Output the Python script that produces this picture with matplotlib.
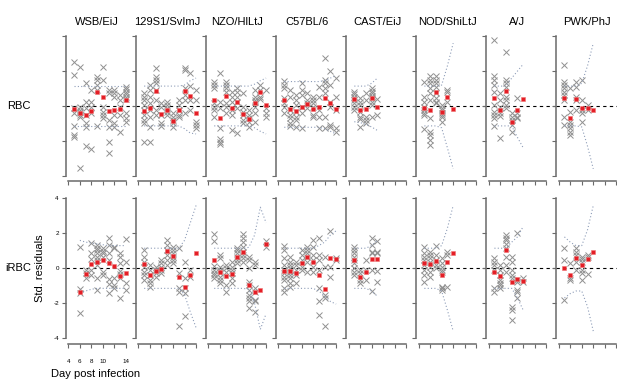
import matplotlib
matplotlib.use("Agg")
import matplotlib.pyplot as plt

plt.rcParams['font.family'] = ['Liberation Sans', 'DejaVu Sans']

STRAINS = ["WSB/EiJ", "129S1/SvImJ", "NZO/HlLtJ", "C57BL/6", "CAST/EiJ",
           "NOD/ShiLtJ", "A/J", "PWK/PhJ"]

D10 = [5, 6, 7, 8, 9, 10, 11, 12, 13, 14]
D9 = [6, 7, 8, 9, 10, 11, 12, 13, 14]
D6 = [5, 6, 7, 8, 9, 10]
D5 = [5, 6, 7, 8, 9]

# ---- RBC (top row) ----
RBC_DAYS = {"WSB/EiJ": D10, "129S1/SvImJ": D10, "NZO/HlLtJ": D10, "C57BL/6": D10,
            "CAST/EiJ": D5, "NOD/ShiLtJ": D6, "A/J": D6, "PWK/PhJ": D6}

RBC_MEAN = {
    "WSB/EiJ": [-0.17, -0.42, -0.53, -0.29, 0.82, 0.50, -0.27, -0.25, -0.19, 0.34],
    "129S1/SvImJ": [-0.30, -0.10, 0.84, -0.48, -0.23, -0.84, -0.23, 0.84, 0.57, -0.38],
    "NZO/HlLtJ": [0.34, -0.70, 0.59, -0.13, 0.25, -0.46, -0.76, 0.15, 0.80, 0.06],
    "C57BL/6": [0.34, -0.15, -0.29, -0.08, 0.11, -0.19, -0.08, 0.46, 0.15, -0.19],
    "CAST/EiJ": [0.38, -0.25, -0.15, 0.46, -0.04],
    "NOD/ShiLtJ": [-0.13, -0.25, 0.80, -0.36, 0.53, -0.17],
    "A/J": [0.48, -0.23, 0.88, -0.93, -0.23, 0.42],
    "PWK/PhJ": [0.48, -0.70, 0.40, -0.13, -0.13, -0.23],
}

RBC_UP = {
    "WSB/EiJ": [1.14] * 10,
    "129S1/SvImJ": [1.14, 1.14, 1.14, 1.14, 1.14, 1.14, 1.14, 1.2, 1.45, 1.6],
    "NZO/HlLtJ": [1.14, 1.14, 1.14, 1.14, 1.14, 1.14, 1.14, 1.25, 1.45, 1.6],
    "C57BL/6": [1.4, 1.4, 1.4, 1.4, 1.4, 1.4, 1.4, 1.45, 1.6, 1.75],
    "CAST/EiJ": [1.14, 1.14, 1.14, 1.3, 1.6],
    "NOD/ShiLtJ": [1.14, 1.14, 1.14, 1.2, 2.3, 3.6],
    "A/J": [1.14, 1.14, 1.14, 1.6, 2.0, 2.4],
    "PWK/PhJ": [1.14, 1.14, 1.14, 1.3, 2.3, 3.6],
}

RBC_LO = {
    "WSB/EiJ": [-1.14] * 10,
    "129S1/SvImJ": [-1.14, -1.14, -1.14, -1.14, -1.14, -1.14, -1.14, -1.3, -1.55, -1.6],
    "NZO/HlLtJ": [-1.14, -1.14, -1.14, -1.14, -1.14, -1.14, -1.14, -1.25, -1.45, -1.6],
    "C57BL/6": [-1.22, -1.22, -1.22, -1.22, -1.22, -1.22, -1.22, -1.3, -1.45, -1.6],
    "CAST/EiJ": [-0.9, -0.95, -1.05, -1.2, -1.4],
    "NOD/ShiLtJ": [-1.14, -1.14, -1.14, -1.25, -2.4, -3.6],
    "A/J": [-1.14, -1.14, -1.14, -1.14, -1.8, -2.4],
    "PWK/PhJ": [-1.14, -1.14, -1.14, -1.2, -2.3, -3.6],
}

RBC_PTS = {
    "WSB/EiJ": [
        [2.53, 1.77, -0.13, -0.42, -1.14, -1.66, -1.75],
        [2.25, -0.04, -0.23, -0.32, -0.51, -0.65, -3.56],
        [1.33, 0.25, -0.13, -0.51, -0.99, -1.18, -2.32],
        [0.91, 0.25, -0.04, -0.42, -2.46],
        [1.68, 1.49, 1.20, 0.91, -1.14],
        [2.25, 1.49, -0.04, -0.32, -0.51, -0.70],
        [0.91, 0.72, -0.80, -1.18, -2.04, -2.67],
        [0.91, 0.72, 0.53, -0.51, -0.99, -1.18],
        [0.63, 0.34, -0.04, -0.51, -1.47],
        [1.10, 0.95, 0.82, 0.69, 0.53, 0.38, -0.42, -0.70, -0.90],
    ],
    "129S1/SvImJ": [
        [0.72, 0.53, 0.34, 0.06, -0.23, -0.51, -0.80, -0.95, -2.04],
        [1.20, 0.91, 0.53, 0.15, -0.23, -0.61, -1.18, -2.04],
        [2.15, 1.68, 1.49, 1.30, 0.91, 0.34, -0.23, -0.51],
        [0.15, -0.04, -0.51, -0.99, -1.14],
        [0.25, 0.06, -0.13, -0.32, -0.51],
        [-0.42, -0.61, -0.80, -0.99, -1.18],
        [0.34, 0.06, -0.23, -0.51, -0.61],
        [2.15, 2.06, 1.01, 0.63, 0.34, -0.42],
        [1.87, 1.14, 0.34, -0.23],
        [0.91, 0.34, -0.90, -1.09, -1.28],
    ],
    "NZO/HlLtJ": [
        [1.39, 1.20, 1.01, 0.15, -0.04, -0.23, -0.61],
        [1.87, 0.25, -0.13, -1.28, -1.90, -2.04, -2.17],
        [1.39, 1.20, 1.01, 0.82, 0.15, -0.04, -0.42],
        [0.82, 0.53, 0.25, -0.23, -0.51, -1.37],
        [1.01, 0.82, 0.53, 0.25, -0.13, -1.52],
        [0.72, -0.04, -0.32, -0.51, -0.80, -0.99],
        [-0.23, -0.51, -0.70, -0.90, -1.18],
        [0.91, 0.53, 0.34, 0.25, -0.04, -0.42, -0.90],
        [1.20, 0.91, 0.53, 0.38],
        [0.91, -0.13, -0.42, -0.61],
    ],
    "C57BL/6": [
        [1.43, 1.20, 1.01, 0.44, 0.15, -0.04, -0.42],
        [0.91, 0.53, -0.23, -0.51, -0.70, -0.99, -1.14],
        [0.63, 0.34, 0.06, -0.32, -0.61, -0.80, -1.18],
        [1.30, 0.91, 0.63, -0.04, -0.42, -1.28],
        [0.72, 0.34, 0.15, -0.13],
        [0.53, 0.34, 0.15, -0.04, -0.51, -0.65],
        [1.10, 0.53, -0.23, -0.61, -1.24],
        [2.76, 1.49, 1.30, 1.01, 0.72, -0.61, -1.24],
        [2.00, 1.20, 0.25, -0.04, -1.09, -1.18],
        [1.58, 0.53, -0.23, -1.28, -1.47],
    ],
    "CAST/EiJ": [
        [0.82, 0.67, 0.53, 0.34, 0.15, -0.04, -0.23],
        [0.44, 0.25, 0.06, -0.32, -0.61, -0.76, -1.18],
        [0.72, 0.34, -0.61, -0.80, -0.95],
        [1.01, 0.88, 0.72, 0.57, 0.44, 0.25, 0.06, -0.65],
        [0.40, -0.51],
    ],
    "NOD/ShiLtJ": [
        [1.39, 0.53, 0.25, -0.04, -0.23, -0.42, -0.51, -1.33],
        [1.71, 1.49, 1.30, 1.01, 0.72, 0.34, -0.70, -1.47, -1.66, -1.94, -2.23],
        [1.71, 1.49, 1.30, 1.07, 0.72, 0.44, 0.25, 0.15],
        [0.06, -0.13, -0.23, -0.42, -0.51, -0.61, -0.90],
        [0.91, 0.82, 0.25],
        [],
    ],
    "A/J": [
        [3.81, 1.71, 1.49, 1.20, 0.82, 0.06, -0.32, -0.51, -0.70, -1.14],
        [0.72, 0.34, -0.04, -0.42, -0.57, -1.85],
        [3.10, 1.49, 1.30, 1.10, 0.53, 0.34, 0.06, -0.13],
        [-0.42, -0.61, -0.80, -1.09, -1.47],
        [0.44, -0.42, -0.61, -0.70],
        [],
    ],
    "PWK/PhJ": [
        [2.34, 1.39, 1.20, 1.01, 0.82, 0.63, 0.34, -0.61, -1.09],
        [1.01, -0.32, -0.90, -1.09, -1.28, -1.47, -1.66],
        [1.39, 1.10, 0.53, 0.34, -0.23],
        [1.49, 0.34, -0.23, -0.42, -0.90],
        [0.06, -0.23],
        [],
    ],
}

# ---- iRBC (bottom row) ----
IRBC_DAYS = {"WSB/EiJ": D9, "129S1/SvImJ": D10, "NZO/HlLtJ": D10, "C57BL/6": D10,
             "CAST/EiJ": D5, "NOD/ShiLtJ": D6, "A/J": D6, "PWK/PhJ": D6}

IRBC_MEAN = {
    "WSB/EiJ": [-1.33, -0.34, 0.25, 0.34, 0.50, 0.32, 0.13, -0.46, -0.29],
    "129S1/SvImJ": [0.25, -0.38, -0.15, -0.06, 0.99, 0.70, -0.51, -1.09, -0.38, 0.86],
    "NZO/HlLtJ": [0.48, -0.19, -0.42, -0.34, 0.67, 0.95, -0.95, -1.33, -1.24, 1.37],
    "C57BL/6": [-0.15, -0.15, -0.29, 0.29, 0.67, 0.34, -0.38, -1.18, 0.61, 0.51],
    "CAST/EiJ": [0.48, -0.51, -0.19, 0.53, 0.51],
    "NOD/ShiLtJ": [0.29, 0.25, 0.42, -0.38, 0.34, 0.90],
    "A/J": [-0.19, -0.42, 1.05, -0.80, -0.61, -0.70],
    "PWK/PhJ": [0.00, -0.38, 0.57, 0.19, 0.53, 0.95],
}

IRBC_UP = {
    "WSB/EiJ": [1.6, 1.5, 1.45, 1.4, 1.35, 1.3, 1.3, 1.3, 1.3],
    "129S1/SvImJ": [1.15, 1.15, 1.15, 1.15, 1.15, 1.15, 1.15, 1.6, 2.6, 3.6],
    "NZO/HlLtJ": [1.15, 1.15, 1.15, 1.15, 1.15, 1.15, 1.2, 1.9, 3.5, 2.6],
    "C57BL/6": [1.15, 1.15, 1.15, 1.15, 1.15, 1.15, 1.3, 1.5, 1.9, 2.15],
    "CAST/EiJ": [1.15, 1.15, 1.15, 1.3, 1.6],
    "NOD/ShiLtJ": [1.15, 1.15, 1.15, 1.3, 2.3, 3.6],
    "A/J": [1.15, 1.15, 1.15, 1.5, 1.8, 2.4],
    "PWK/PhJ": [1.8, 1.5, 1.3, 1.3, 2.2, 3.6],
}

IRBC_LO = {
    "WSB/EiJ": [-1.4, -1.3, -1.2, -1.15, -1.15, -1.15, -1.15, -1.15, -1.15],
    "129S1/SvImJ": [-1.15, -1.15, -1.15, -1.15, -1.15, -1.15, -1.15, -1.5, -2.5, -3.4],
    "NZO/HlLtJ": [-1.15, -1.15, -1.15, -1.15, -1.15, -1.15, -1.2, -2.0, -3.5, -2.6],
    "C57BL/6": [-1.15, -1.15, -1.15, -1.15, -1.15, -1.15, -1.3, -1.6, -1.9, -2.05],
    "CAST/EiJ": [-1.15, -1.15, -1.15, -1.3, -1.6],
    "NOD/ShiLtJ": [-1.15, -1.15, -1.15, -1.3, -2.4, -3.6],
    "A/J": [-1.15, -1.15, -1.15, -1.15, -1.7, -2.4],
    "PWK/PhJ": [-1.7, -1.45, -1.3, -1.3, -2.2, -3.6],
}

IRBC_PTS = {
    "WSB/EiJ": [
        [1.24, -1.18, -1.43, -2.57],
        [-0.10, -0.29, -0.57],
        [1.43, 0.86, 0.53, -0.10, -0.38],
        [1.33, 1.18, 1.05, 0.86, 0.67, 0.48, 0.19, -0.57, -1.24],
        [1.14, 0.99, 0.86, 0.67, -0.19, -0.38],
        [1.75, 1.33, 0.86, 0.48, -0.61, -0.91, -1.43],
        [1.24, 1.14, -0.57, -0.95, -1.14],
        [0.86, 0.67, 0.29, -0.15, -0.34, -0.57, -1.68],
        [1.68, 0.38, -0.86, -1.24],
    ],
    "129S1/SvImJ": [
        [1.05, 0.67, 0.38, 0.10, -0.19, -0.38, -0.67],
        [0.19, -0.10, -0.38, -0.67, -0.86, -1.05],
        [0.10, -0.10, -0.29, -0.48],
        [0.48, 0.29, 0.10, -0.10, -0.29],
        [1.62, 1.33, 1.05, 0.76, 0.48, 0.19],
        [1.24, 1.05, 0.86, 0.67, 0.48, 0.29],
        [1.14, -0.29, -1.14, -1.33, -3.33],
        [0.38, -0.57, -1.14, -1.43, -2.76],
        [-0.10, -0.48],
        [],
    ],
    "NZO/HlLtJ": [
        [1.99, 1.56, 0.15, -0.10, -0.29, -0.38, -0.53],
        [0.76, 0.57, 0.10, -0.10, -0.29, -0.48, -0.67, -0.86],
        [0.19, 0.00, -0.19, -0.95, -1.33],
        [0.34, 0.10, -0.10, -0.29, -0.57, -0.86],
        [1.18, 1.05, 0.86, 0.67, 0.48, 0.29],
        [1.94, 1.75, 1.52, 1.24, 0.95, 0.76, 0.57, 0.38],
        [0.67, 0.48, 0.00, -0.76, -0.95, -1.24, -1.52, -1.71, -1.90, -2.29],
        [0.34, 0.19, -1.14, -1.33, -1.81, -1.90, -2.48],
        [],
        [1.56, 1.24],
    ],
    "C57BL/6": [
        [1.28, 1.05, 0.57, 0.19, -0.10, -0.29, -0.48, -0.67, -1.14, -1.33],
        [0.67, 0.38, 0.19, 0.00, -0.19, -0.38, -0.57, -0.86, -1.05],
        [0.38, 0.19, -0.10, -0.38, -0.86],
        [1.05, 0.76, 0.48, 0.10, -0.10],
        [1.24, 1.05, 0.86, 0.67, 0.38, -0.19],
        [1.62, 1.24, 0.76, 0.48, 0.10, -0.19],
        [1.71, 0.76, 0.48, -0.10, -1.14, -1.90, -2.67],
        [0.67, 0.10, -1.52, -1.71, -3.33],
        [2.13, 0.10, -0.48],
        [0.61, 0.48],
    ],
    "CAST/EiJ": [
        [1.24, 1.05, 0.86, 0.67, 0.48, 0.29, 0.00, -0.19, -0.38],
        [-0.10, -0.29, -0.67, -0.86],
        [0.48, -0.10, -0.67],
        [1.75, 1.33, 0.95, 0.86, -0.10, -1.30],
        [1.56, 0.95, 0.86, -0.15, -0.76],
    ],
    "NOD/ShiLtJ": [
        [1.24, 0.86, 0.67, 0.48, 0.19, -0.10, -0.38, -0.76],
        [0.95, 0.76, 0.57, 0.38, 0.10, -0.19, -0.48],
        [1.28, 0.76, 0.48, 0.19, 0.00],
        [0.57, 0.29, 0.10, -0.10, -0.19, -1.05, -1.14, -1.24],
        [0.95, 0.76, -1.05],
        [],
    ],
    "A/J": [
        [0.57, 0.38, 0.19, -0.10, -1.14, -1.33],
        [0.19, -0.10, -0.38, -0.67, -0.86, -0.95, -1.14],
        [1.90, 1.75, 1.62, 1.37, 1.14, 0.67, 0.19, -0.23],
        [0.67, 0.38, -0.10, -0.38, -0.57, -2.19, -2.38, -2.95],
        [2.00, -0.67, -0.76, -1.24, -1.33, -1.71],
        [-0.57, -0.76],
    ],
    "PWK/PhJ": [
        [1.14, 0.48, -1.81],
        [0.29, -0.57, -0.67],
        [1.14, 0.95, 0.76, 0.38, -0.10],
        [0.67, 0.53, 0.38, -0.10, -0.29, -0.67],
        [0.76, 0.67, -0.34],
        [],
    ],
}

X_TICKS = [4, 6, 8, 10, 12, 14]
X_LABELS = ["4", "6", "8", "10", "", "14"]
Y_TICKS = [-4, -2, 0, 2, 4]

GREY = "#909090"
RED = "#e41e26"
BAND = "#8e9db8"
AXCOL = "#6a6a6a"

W, H = 617, 385
fig = plt.figure(figsize=(W / 100, H / 100), dpi=100)


def draw_panel(ax, days, pts, means, up, lo):
    for d, vals in zip(days, pts):
        ax.plot([d] * len(vals), vals, "x", color=GREY, ms=4, mew=0.7, zorder=2)
    ax.axhline(0, color="black", lw=0.8, dashes=(3, 3), zorder=1)
    ax.plot(days, up, color=BAND, lw=0.8, ls=(0, (1, 2)), zorder=3)
    ax.plot(days, lo, color=BAND, lw=0.8, ls=(0, (1, 2)), zorder=3)
    ax.plot(days, means, "s", color=RED, ms=3.5, mec="#f07070", mew=0.4, zorder=4)
    ax.set_xlim(3.56, 15.44)
    ax.set_ylim(-4.32, 4.32)
    for s in ["top", "right"]:
        ax.spines[s].set_visible(False)
    ax.spines["left"].set_bounds(-4, 4)
    ax.spines["bottom"].set_bounds(4, 14)
    for s in ["left", "bottom"]:
        ax.spines[s].set_color(AXCOL)
        ax.spines[s].set_linewidth(1.1)
    ax.set_xticks(X_TICKS)
    ax.set_yticks(Y_TICKS)
    ax.tick_params(length=3, width=0.8, color=AXCOL, labelsize=4.5, pad=2)
    ax.set_xticklabels([])
    ax.set_yticklabels([])


rows = [
    (RBC_DAYS, RBC_PTS, RBC_MEAN, RBC_UP, RBC_LO, 106.0),
    (IRBC_DAYS, IRBC_PTS, IRBC_MEAN, IRBC_UP, IRBC_LO, 268.3),
]
ph = 150.8
for r, (days_d, pts_d, mean_d, up_d, lo_d, yc) in enumerate(rows):
    for i, s in enumerate(STRAINS):
        left = 65.8 + 70.05 * i
        ax = fig.add_axes([left / W, (H - yc - ph / 2) / H, 68.5 / W, ph / H])
        draw_panel(ax, days_d[s], pts_d[s], mean_d[s], up_d[s], lo_d[s])
        if r == 0:
            fig.text((left + 31) / W, 1 - 22 / H, s, ha="center", va="center", fontsize=8)
        if r == 1 and i == 0:
            ax.set_xticklabels(X_LABELS)
            ax.set_yticklabels([str(v) for v in Y_TICKS])
            ax.tick_params(axis="x", pad=8)

fig.text(19 / W, 1 - 106 / H, "RBC", ha="center", va="center", fontsize=8)
fig.text(18 / W, 1 - 268 / H, "iRBC", ha="center", va="center", fontsize=8)
fig.text(40 / W, 1 - 268 / H, "Std. residuals", ha="center", va="center",
         rotation=90, fontsize=8)
fig.text(96 / W, 1 - 374 / H, "Day post infection", ha="center", va="center", fontsize=8)

fig.savefig("out.png", dpi=100)
